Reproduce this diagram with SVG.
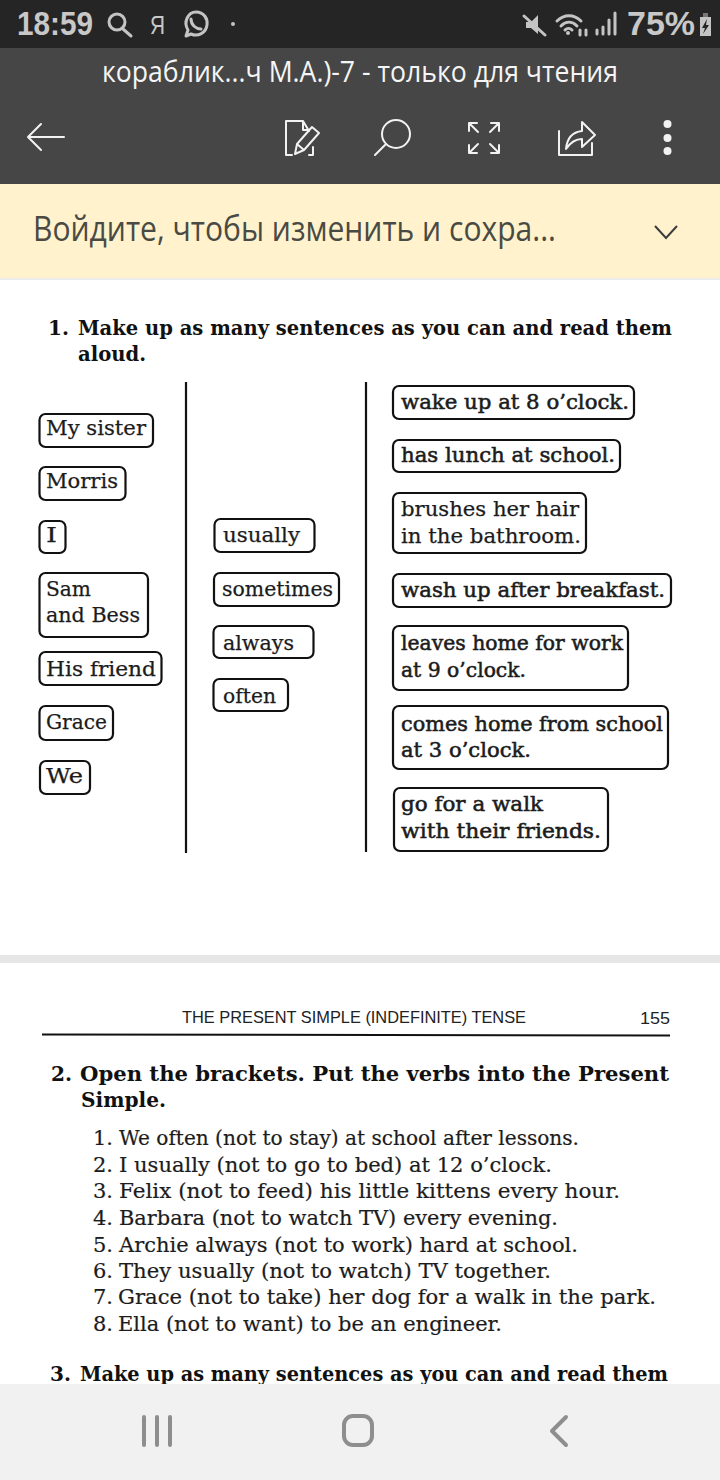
<svg xmlns="http://www.w3.org/2000/svg" width="720" height="1480" viewBox="0 0 720 1480">
<style>
.s{font-family:"Open Sans","Liberation Sans",sans-serif}
.p{font-family:"Liberation Sans","Noto Sans",sans-serif}
.b{font-family:"DejaVu Serif","Liberation Serif",serif;font-size:21px;fill:#1c1c1c;stroke:#1c1c1c;stroke-width:.25}
.x{stroke-width:.55}
.h{font-family:"DejaVu Serif","Liberation Serif",serif;font-size:21px;font-weight:bold;fill:#111}
.t{font-family:"DejaVu Serif","Liberation Serif",serif;font-size:21px;fill:#1c1c1c;stroke:#1c1c1c;stroke-width:.2}
.n rect{fill:#fff;stroke:#111;stroke-width:2.2}
.ic{fill:none;stroke:#f2f2f2;stroke-width:2;stroke-linecap:round;stroke-linejoin:round}
.st{fill:none;stroke:#c4c4c4;stroke-width:3;stroke-linecap:round;stroke-linejoin:round}
.nv{fill:none;stroke:#8e8e8e;stroke-width:4;stroke-linecap:round;stroke-linejoin:round}
</style>
<rect width="720" height="1480" fill="#fff"/>
<rect id="separator" y="955" width="720" height="8" fill="#e6e6e6"/>

<g id="exercise1">
<text class="h" x="48" y="335" textLength="21" lengthAdjust="spacingAndGlyphs">1.</text>
<text class="h" x="78" y="335" textLength="594" lengthAdjust="spacingAndGlyphs">Make up as many sentences as you can and read them</text>
<text class="h" x="78" y="361" textLength="68" lengthAdjust="spacingAndGlyphs">aloud.</text>
</g>

<g id="connectors" stroke="#111" stroke-width="2.2">
<line x1="186" y1="382" x2="186" y2="853"/>
<line x1="366" y1="382" x2="366" y2="852"/>
</g>

<g id="n-my-sister" class="n"><rect x="39.500" y="414" width="113.500" height="33" rx="6"/><text class="b" x="46" y="435" textLength="100" lengthAdjust="spacingAndGlyphs">My sister</text></g>
<g id="n-morris" class="n"><rect x="39.500" y="467" width="86" height="33" rx="6"/><text class="b" x="46" y="488" textLength="72" lengthAdjust="spacingAndGlyphs">Morris</text></g>
<g id="n-i" class="n"><rect x="39.500" y="521" width="26" height="32" rx="6"/><text class="b" x="46" y="542" textLength="11" lengthAdjust="spacingAndGlyphs">I</text></g>
<g id="n-sam" class="n"><rect x="39.500" y="573" width="108.500" height="64" rx="6"/><text class="b" x="46" y="596" textLength="45" lengthAdjust="spacingAndGlyphs">Sam</text><text class="b" x="46" y="622" textLength="94" lengthAdjust="spacingAndGlyphs">and Bess</text></g>
<g id="n-his-friend" class="n"><rect x="39.500" y="652" width="122" height="33" rx="6"/><text class="b" x="46" y="676" textLength="110" lengthAdjust="spacingAndGlyphs">His friend</text></g>
<g id="n-grace" class="n"><rect x="39.500" y="706" width="73.500" height="34" rx="6"/><text class="b" x="46" y="729" textLength="61" lengthAdjust="spacingAndGlyphs">Grace</text></g>
<g id="n-we" class="n"><rect x="40" y="761" width="50" height="33" rx="6"/><text class="b" x="46" y="783" textLength="37" lengthAdjust="spacingAndGlyphs">We</text></g>

<g id="n-usually" class="n"><rect x="214.500" y="519" width="100" height="33" rx="6"/><text class="b" x="223" y="542" textLength="77" lengthAdjust="spacingAndGlyphs">usually</text></g>
<g id="n-sometimes" class="n"><rect x="214" y="573" width="125" height="33" rx="6"/><text class="b" x="222" y="596" textLength="111" lengthAdjust="spacingAndGlyphs">sometimes</text></g>
<g id="n-always" class="n"><rect x="213.500" y="626" width="100" height="32" rx="6"/><text class="b" x="223" y="650" textLength="71" lengthAdjust="spacingAndGlyphs">always</text></g>
<g id="n-often" class="n"><rect x="213.500" y="679" width="74.500" height="32" rx="6"/><text class="b" x="223" y="703" textLength="53" lengthAdjust="spacingAndGlyphs">often</text></g>

<g id="n-wake" class="n"><rect x="393" y="386" width="241" height="33" rx="6"/><text class="b x" x="401" y="409" textLength="228" lengthAdjust="spacingAndGlyphs">wake up at 8 o’clock.</text></g>
<g id="n-lunch" class="n"><rect x="393" y="440" width="227" height="32" rx="6"/><text class="b x" x="401" y="462" textLength="214" lengthAdjust="spacingAndGlyphs">has lunch at school.</text></g>
<g id="n-brushes" class="n"><rect x="393" y="493" width="193" height="60" rx="6"/><text class="b" x="401" y="516" textLength="178" lengthAdjust="spacingAndGlyphs">brushes her hair</text><text class="b" x="401" y="543" textLength="180" lengthAdjust="spacingAndGlyphs">in the bathroom.</text></g>
<g id="n-wash" class="n"><rect x="393" y="574" width="278" height="33" rx="6"/><text class="b x" x="401" y="597" textLength="264" lengthAdjust="spacingAndGlyphs">wash up after breakfast.</text></g>
<g id="n-leaves" class="n"><rect x="393" y="626" width="235" height="64" rx="6"/><text class="b x" x="401" y="650" textLength="222" lengthAdjust="spacingAndGlyphs">leaves home for work</text><text class="b x" x="401" y="677" textLength="125" lengthAdjust="spacingAndGlyphs">at 9 o’clock.</text></g>
<g id="n-comes" class="n"><rect x="393" y="706" width="275" height="63" rx="6"/><text class="b x" x="401" y="731" textLength="262" lengthAdjust="spacingAndGlyphs">comes home from school</text><text class="b x" x="401" y="757" textLength="130" lengthAdjust="spacingAndGlyphs">at 3 o’clock.</text></g>
<g id="n-go" class="n"><rect x="394" y="788" width="214" height="63" rx="6"/><text class="b x" x="401" y="811" textLength="142" lengthAdjust="spacingAndGlyphs">go for a walk</text><text class="b x" x="401" y="838" textLength="200" lengthAdjust="spacingAndGlyphs">with their friends.</text></g>

<g id="page-header">
<text class="p" x="182" y="1023" font-size="16.500" fill="#222" textLength="344" lengthAdjust="spacingAndGlyphs">THE PRESENT SIMPLE (INDEFINITE) TENSE</text>
<text class="p" x="640" y="1024" font-size="16.500" fill="#222" textLength="30" lengthAdjust="spacingAndGlyphs">155</text>
<line x1="42" y1="1034.500" x2="670" y2="1035.500" stroke="#111" stroke-width="2"/>
</g>

<g id="exercise2">
<text class="h" x="51" y="1081" textLength="21" lengthAdjust="spacingAndGlyphs">2.</text>
<text class="h" x="80" y="1081" textLength="589" lengthAdjust="spacingAndGlyphs">Open the brackets. Put the verbs into the Present</text>
<text class="h" x="81" y="1107" textLength="85" lengthAdjust="spacingAndGlyphs">Simple.</text>
<text class="t" x="93" y="1145">1.</text><text class="t" x="119" y="1145" textLength="460" lengthAdjust="spacingAndGlyphs">We often (not to stay) at school after lessons.</text>
<text class="t" x="93" y="1172">2.</text><text class="t" x="119" y="1172" textLength="433" lengthAdjust="spacingAndGlyphs">I usually (not to go to bed) at 12 o’clock.</text>
<text class="t" x="93" y="1198">3.</text><text class="t" x="119" y="1198" textLength="501" lengthAdjust="spacingAndGlyphs">Felix (not to feed) his little kittens every hour.</text>
<text class="t" x="93" y="1225">4.</text><text class="t" x="119" y="1225" textLength="439" lengthAdjust="spacingAndGlyphs">Barbara (not to watch TV) every evening.</text>
<text class="t" x="93" y="1252">5.</text><text class="t" x="119" y="1252" textLength="459" lengthAdjust="spacingAndGlyphs">Archie always (not to work) hard at school.</text>
<text class="t" x="93" y="1278">6.</text><text class="t" x="119" y="1278" textLength="432" lengthAdjust="spacingAndGlyphs">They usually (not to watch) TV together.</text>
<text class="t" x="93" y="1304">7.</text><text class="t" x="118" y="1304" textLength="538" lengthAdjust="spacingAndGlyphs">Grace (not to take) her dog for a walk in the park.</text>
<text class="t" x="93" y="1331">8.</text><text class="t" x="118" y="1331" textLength="384" lengthAdjust="spacingAndGlyphs">Ella (not to want) to be an engineer.</text>
</g>
<g id="exercise3">
<text class="h" x="50" y="1381" textLength="21" lengthAdjust="spacingAndGlyphs">3.</text>
<text class="h" x="80" y="1381" textLength="588" lengthAdjust="spacingAndGlyphs">Make up as many sentences as you can and read them</text>
</g>

<g id="nav-bar">
<rect y="1384" width="720" height="96" fill="#f1f1f1"/>
<path class="nv" d="M144 1417V1445M157 1417V1445M170 1417V1445"/>
<rect class="nv" x="344" y="1416" width="28" height="29" rx="9"/>
<path class="nv" d="M566 1417L552 1431L566 1445"/>
</g>

<g id="status-bar">
<rect width="720" height="48" fill="#252525"/>
<text class="p" x="17" y="35" font-size="33" font-weight="bold" fill="#c8c8c8" textLength="76" lengthAdjust="spacingAndGlyphs">18:59</text>
<circle class="st" cx="117" cy="22" r="8"/><path class="st" d="M123 29L131 36"/>
<text class="p" x="150" y="34" font-size="26" fill="#c8c8c8" textLength="15" lengthAdjust="spacingAndGlyphs">Я</text>
<path class="st" stroke-width="2.500" d="M186 36L188 30C183 22 188 12 196 12C204 12 208 19 207 25C206 33 198 37 191 34Z"/><path class="st" stroke-width="2.500" d="M191 19C191 25 196 29 201 29"/>
<circle cx="233" cy="24" r="2" fill="#c4c4c4"/>
<path d="M526 22H531L538 15V34L531 28H526Z" fill="#c4c4c4"/><path class="st" d="M524 16L545 35"/>
<path class="st" stroke-width="2" d="M557 21C564 14 574 14 581 21M561 26C566 21 572 21 577 26M565 30C567 28 570 28 572 30"/>
<circle cx="568" cy="33" r="2" fill="#c4c4c4"/>
<path class="st" stroke-width="2" d="M580 30V35M586 30V35M597 34V30M603 34V27M609 34V20M615 34V13"/>
<text class="p" x="627" y="35" font-size="33" font-weight="bold" fill="#c8c8c8" textLength="68" lengthAdjust="spacingAndGlyphs">75%</text>
<rect x="700" y="17" width="11" height="19" fill="#c4c4c4"/><rect x="703" y="13" width="5" height="4" fill="#777"/>
<path d="M707 19L702 28H705L703 34L709 25H706Z" fill="#252525"/>
</g>

<g id="toolbar">
<rect y="48" width="720" height="136" fill="#464646"/>
<text class="s" x="102" y="82" font-size="29" fill="#f5f5f5" textLength="516" lengthAdjust="spacingAndGlyphs">кораблик...ч М.А.)-7 - только для чтения</text>
<path class="ic" d="M29 137H64M41 124L28 137L41 150"/>
<path class="ic" d="M292 155H286V121H303L309 131M303 121V130H309M313 147V155H309"/>
<path class="ic" d="M295 154L297 144L312 127L319 133L304 150ZM297 144L304 150"/>
<circle class="ic" cx="396" cy="134" r="14"/><path class="ic" d="M386 144L375 155"/>
<path class="ic" d="M469 131V123H477M469 123L478 132M499 131V123H491M499 123L490 132M469 145V153H477M469 153L478 144M499 145V153H491M499 153L490 144"/>
<path class="ic" d="M559 131V155H592V143"/>
<path class="ic" d="M566 149C567 138 573 132 582 131V122L595 135L582 147V139C575 139 570 143 566 149Z"/>
<circle cx="667.500" cy="124" r="4" fill="#f2f2f2"/><circle cx="667.500" cy="138" r="4" fill="#f2f2f2"/><circle cx="667.500" cy="151" r="4" fill="#f2f2f2"/>
</g>

<g id="signin-banner">
<rect y="184" width="720" height="94" fill="#fff2cc"/>
<rect y="278" width="720" height="2" fill="#ececec"/>
<text class="s" x="33" y="241" font-size="35" fill="#4a4a44" textLength="523" lengthAdjust="spacingAndGlyphs">Войдите, чтобы изменить и сохра...</text>
<path d="M655 226L666 238L677 226" fill="none" stroke="#3c3c3c" stroke-width="2"/>
</g>
</svg>
